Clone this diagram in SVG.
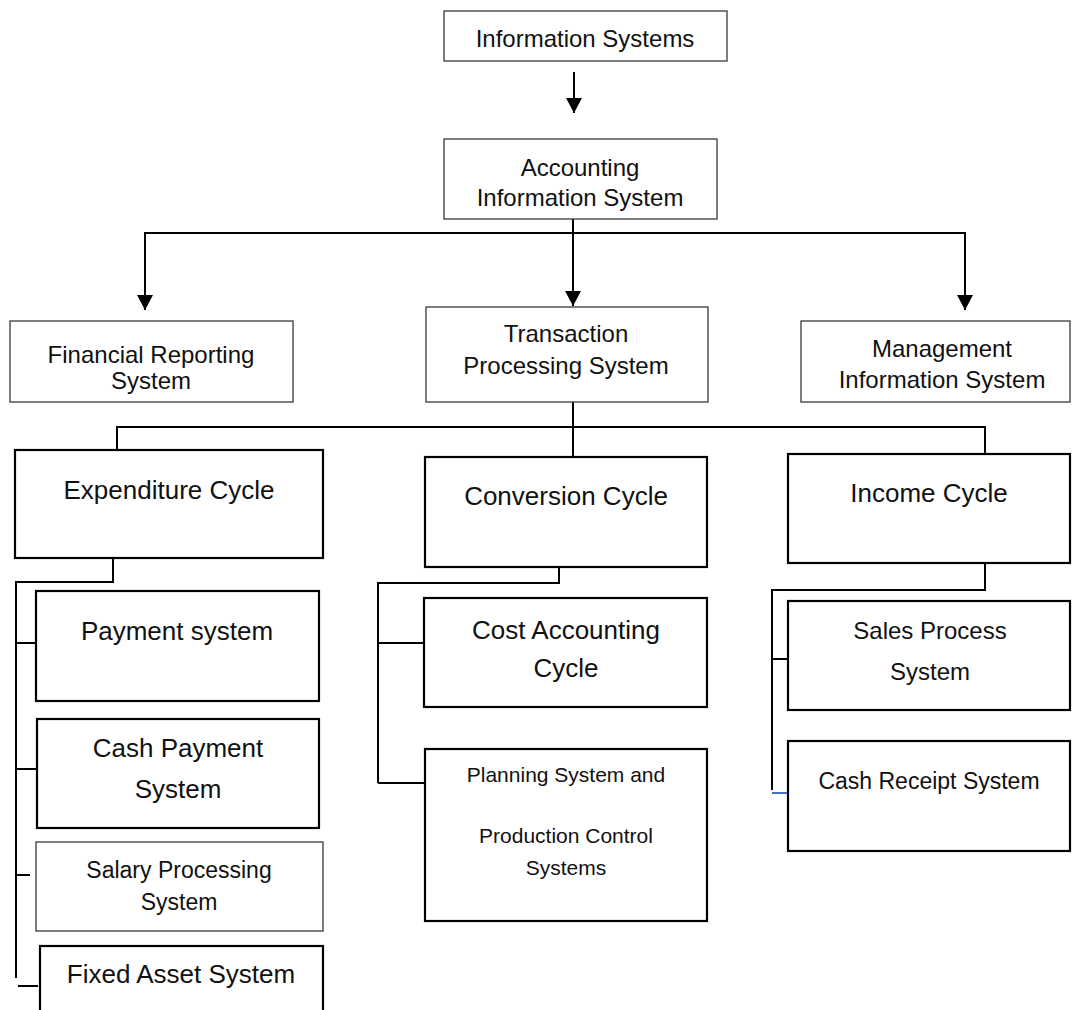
<svg xmlns="http://www.w3.org/2000/svg" width="1072" height="1010" viewBox="0 0 1072 1010">
<style>
  .thin { fill: #fff; stroke: #3a3a3a; stroke-width: 1.3; }
  .thick { fill: #fff; stroke: #000; stroke-width: 2.2; }
  .conn { fill: none; stroke: #000; stroke-width: 2; }
  text { font-family: "Liberation Sans", Arial, sans-serif; fill: #111; text-anchor: middle; }
  .f24 { font-size: 24px; }
  .f26 { font-size: 26px; }
  .f23 { font-size: 23px; }
  .f21 { font-size: 21px; }
</style>
<defs>
  <marker id="arrow" markerUnits="userSpaceOnUse" viewBox="0 0 15 16" refX="15" refY="8" markerWidth="15" markerHeight="16" orient="auto">
    <path d="M0,0 L15,8 L0,16 z" fill="#000"/>
  </marker>
</defs>
<rect width="1072" height="1010" fill="#fff"/>

<g id="connectors">
  <line class="conn" x1="574" y1="72" x2="574" y2="113" marker-end="url(#arrow)"/>
  <line class="conn" x1="573" y1="219" x2="573" y2="306" marker-end="url(#arrow)"/>
  <line class="conn" x1="145" y1="233" x2="965" y2="233"/>
  <polyline class="conn" points="146,233 145,233 145,310" marker-end="url(#arrow)"/>
  <polyline class="conn" points="964,233 965,233 965,310" marker-end="url(#arrow)"/>
  <line class="conn" x1="573" y1="402" x2="573" y2="457"/>
  <path class="conn" d="M117,450 V427 H985 V454"/>
  <path class="conn" d="M113,558 V582 H16 V978"/>
  <path class="conn" d="M16,643 H36 M16,769 H37 M15,875 H30 M18,986 H38"/>
  <path class="conn" d="M559,567 V583 H378 V783"/>
  <path class="conn" d="M378,643 H424 M378,783 H425"/>
  <path class="conn" d="M985,563 V590 H772 V790"/>
  <path class="conn" d="M772,659 H788"/>
  <path fill="none" stroke="#4472C4" stroke-width="2" d="M772,793 H788"/>
</g>

<g id="information-systems">
  <rect class="thin" x="444" y="11" width="283" height="50"/>
  <text class="f24" x="585" y="47">Information Systems</text>
</g>
<g id="accounting-information-system">
  <rect class="thin" x="444" y="139" width="273" height="80"/>
  <text class="f24" x="580" y="176">Accounting</text>
  <text class="f24" x="580" y="206">Information System</text>
</g>
<g id="financial-reporting-system">
  <rect class="thin" x="10" y="321" width="283" height="81"/>
  <text class="f24" x="151" y="363">Financial Reporting</text>
  <text class="f24" x="151" y="389">System</text>
</g>
<g id="transaction-processing-system">
  <rect class="thin" x="426" y="307" width="282" height="95"/>
  <text class="f24" x="566" y="342">Transaction</text>
  <text class="f24" x="566" y="374">Processing System</text>
</g>
<g id="management-information-system">
  <rect class="thin" x="801" y="321" width="269" height="81"/>
  <text class="f24" x="942" y="357">Management</text>
  <text class="f24" x="942" y="388">Information System</text>
</g>
<g id="expenditure-cycle">
  <rect class="thick" x="15" y="450" width="308" height="108"/>
  <text class="f26" x="169" y="499">Expenditure Cycle</text>
</g>
<g id="conversion-cycle">
  <rect class="thick" x="425" y="457" width="282" height="110"/>
  <text class="f26" x="566" y="505">Conversion Cycle</text>
</g>
<g id="income-cycle">
  <rect class="thick" x="788" y="454" width="282" height="109"/>
  <text class="f26" x="929" y="502">Income Cycle</text>
</g>
<g id="payment-system">
  <rect class="thick" x="36" y="591" width="283" height="110"/>
  <text class="f26" x="177" y="640">Payment system</text>
</g>
<g id="cash-payment-system">
  <rect class="thick" x="37" y="719" width="282" height="109"/>
  <text class="f26" x="178" y="757">Cash Payment</text>
  <text class="f26" x="178" y="798">System</text>
</g>
<g id="salary-processing-system">
  <rect class="thin" x="36" y="842" width="287" height="89"/>
  <text class="f23" x="179" y="878">Salary Processing</text>
  <text class="f23" x="179" y="910">System</text>
</g>
<g id="fixed-asset-system">
  <rect class="thick" x="40" y="946" width="283" height="80"/>
  <text class="f26" x="181" y="983">Fixed Asset System</text>
</g>
<g id="cost-accounting-cycle">
  <rect class="thick" x="424" y="598" width="283" height="109"/>
  <text class="f26" x="566" y="639">Cost Accounting</text>
  <text class="f26" x="566" y="677">Cycle</text>
</g>
<g id="planning-production-control">
  <rect class="thick" x="425" y="749" width="282" height="172"/>
  <text class="f21" x="566" y="782">Planning System and</text>
  <text class="f21" x="566" y="843">Production Control</text>
  <text class="f21" x="566" y="875">Systems</text>
</g>
<g id="sales-process-system">
  <rect class="thick" x="788" y="601" width="282" height="109"/>
  <text class="f24" x="930" y="639">Sales Process</text>
  <text class="f24" x="930" y="680">System</text>
</g>
<g id="cash-receipt-system">
  <rect class="thick" x="788" y="741" width="282" height="110"/>
  <text class="f23" x="929" y="789">Cash Receipt System</text>
</g>
</svg>
